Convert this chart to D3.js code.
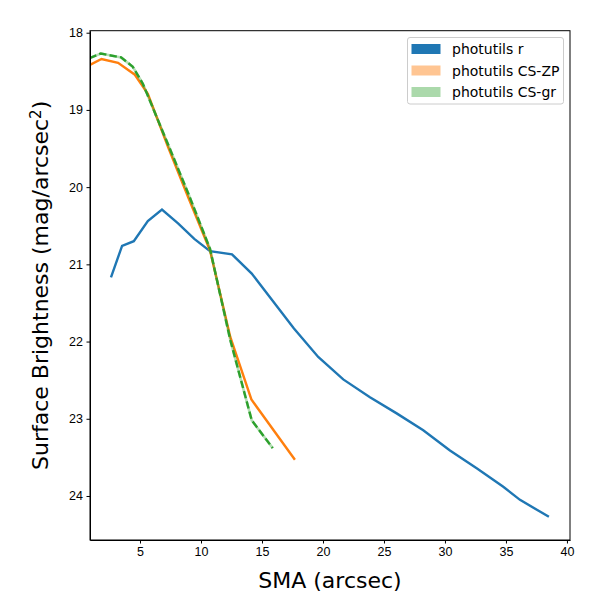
<!DOCTYPE html>
<meta charset="utf-8">
<head>
<style>
  body { margin: 0; background: #fff; }
  svg { font-family: "DejaVu Sans", sans-serif; }
  .axis text { font-size: 12.5px; fill: #000; }
  .axis path, .axis line { stroke: #000; stroke-width: 1; fill: none; }
</style>
</head>
<body>
<script src="https://cdnjs.cloudflare.com/ajax/libs/d3/7.8.5/d3.min.js"></script>
<script>

// photutils r profile
const rSma = [2.62, 3.53, 4.49, 5.64, 6.80, 8.12, 9.45, 10.74, 12.54, 14.16, 17.62, 19.61, 21.66, 23.85, 26.04, 28.22, 30.41, 32.6, 34.78, 36.15, 38.52];
const rMu  = [21.17, 20.76, 20.70, 20.44, 20.29, 20.47, 20.67, 20.83, 20.87, 21.12, 21.83, 22.2, 22.49, 22.72, 22.93, 23.15, 23.41, 23.64, 23.88, 24.05, 24.27];

// photutils CS-ZP profile
const zpSma = [0.85, 1.84, 3.2, 4.55, 5.64, 7.3, 9.0, 10.74, 12.4, 14.13, 17.70];
const zpMu  = [18.42, 18.34, 18.39, 18.54, 18.79, 19.48, 20.15, 20.82, 21.94, 22.75, 23.53];

// photutils CS-gr profile
const grSma = [0.85, 1.79, 3.45, 4.4, 5.23, 7.44, 9.0, 10.74, 12.4, 14.16, 15.88];
const grMu  = [18.33, 18.27, 18.32, 18.44, 18.66, 19.5, 20.1, 20.8, 21.98, 23.02, 23.38];

const xTicks = [5, 10, 15, 20, 25, 30, 35, 40];
const yTicks = [18, 19, 20, 21, 22, 23, 24];
const legendLabels = ["photutils r", "photutils CS-ZP", "photutils CS-gr"];

const margin = {top: 30.7, right: 30, bottom: 60, left: 90},
    width = 600 - margin.left - margin.right,
    height = 600 - margin.top - margin.bottom;

const x = d3.scaleLinear().domain([0.9, 40.25]).range([0, width]);
const y = d3.scaleLinear().domain([17.974, 24.57]).range([0, height]);

const svg = d3.select("body").append("svg")
  .attr("width", 600)
  .attr("height", 600);

const g = svg.append("g")
  .attr("transform", "translate(" + margin.left + "," + margin.top + ")");

g.append("defs").append("clipPath")
  .attr("id", "plot-clip")
  .append("rect")
    .attr("width", width)
    .attr("height", height);

const line = d3.line()
  .x(d => x(d[0]))
  .y(d => y(d[1]));

const zip = (a, b) => a.map((v, i) => [v, b[i]]);

const curves = g.append("g").attr("clip-path", "url(#plot-clip)");

curves.append("path")
  .datum(zip(rSma, rMu))
  .attr("d", line)
  .attr("fill", "none")
  .attr("stroke", "#1f77b4")
  .attr("stroke-width", 2.4);

curves.append("path")
  .datum(zip(zpSma, zpMu))
  .attr("d", line)
  .attr("fill", "none")
  .attr("stroke", "#ff7f0e")
  .attr("stroke-width", 2.4);

// faint band under the dashed line
curves.append("path")
  .datum(zip(grSma, grMu))
  .attr("d", line)
  .attr("fill", "none")
  .attr("stroke", "#2ca02c")
  .attr("stroke-opacity", 0.35)
  .attr("stroke-width", 2.6);

curves.append("path")
  .datum(zip(grSma, grMu))
  .attr("d", line)
  .attr("fill", "none")
  .attr("stroke", "#2ca02c")
  .attr("stroke-width", 2.4)
  .attr("stroke-dasharray", "7.4,3.2");

// axes
g.append("g")
  .attr("class", "axis")
  .attr("transform", "translate(0," + height + ")")
  .call(d3.axisBottom(x).tickValues(xTicks).tickFormat(d3.format("d"))
    .tickSize(3.5).tickPadding(3.5).tickSizeOuter(0));

g.append("g")
  .attr("class", "axis")
  .call(d3.axisLeft(y).tickValues(yTicks).tickFormat(d3.format("d"))
    .tickSize(3.5).tickPadding(3.5).tickSizeOuter(0));

g.append("rect")
  .attr("width", width)
  .attr("height", height)
  .attr("fill", "none")
  .attr("stroke", "#000")
  .attr("stroke-width", 1);

// axis labels
svg.append("text")
  .attr("x", margin.left + width / 2)
  .attr("y", 588)
  .attr("text-anchor", "middle")
  .style("font-size", "22px")
  .text("SMA (arcsec)");

const yl = svg.append("text")
  .attr("transform", "translate(48," + (margin.top + height / 2) + ") rotate(-90)")
  .attr("text-anchor", "middle")
  .style("font-size", "22px");
yl.append("tspan").text("Surface Brightness (mag/arcsec");
yl.append("tspan").attr("dy", "-0.45em").style("font-size", "15px").text("2");
yl.append("tspan").attr("dy", "0.3em").text(")");

// legend
const legendColors = ["#1f77b4", "#ff7f0e", "#2ca02c"];
const legendAlpha = [1, 0.45, 0.4];

const legend = svg.append("g").attr("transform", "translate(407.5,37.5)");
legend.append("rect")
  .attr("width", 156)
  .attr("height", 66.5)
  .attr("rx", 2.5)
  .attr("fill", "#fff")
  .attr("fill-opacity", 0.8)
  .attr("stroke", "#cccccc");

const rows = legend.selectAll("g.row")
  .data(legendLabels)
  .join("g")
    .attr("class", "row")
    .attr("transform", (d, i) => "translate(0," + (11.5 + i * 21.5) + ")");

rows.append("rect")
  .attr("x", 4)
  .attr("y", -5)
  .attr("width", 29)
  .attr("height", 10)
  .attr("fill", (d, i) => legendColors[i])
  .attr("fill-opacity", (d, i) => legendAlpha[i]);

rows.append("text")
  .attr("x", 44.5)
  .attr("y", 5)
  .style("font-size", "14px")
  .text(d => d);

</script>
</body>
